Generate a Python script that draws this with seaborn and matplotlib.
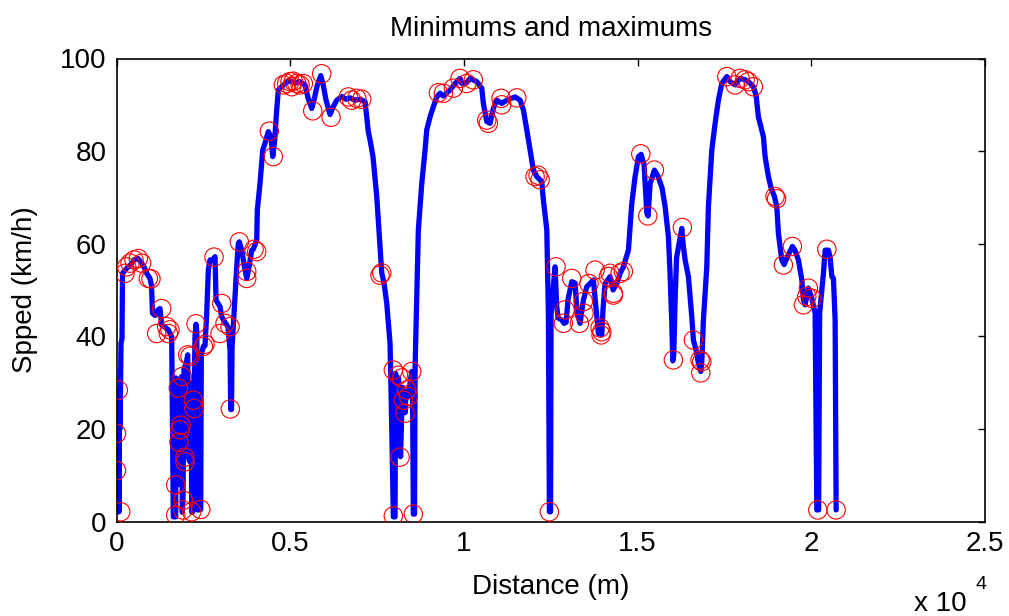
import matplotlib
matplotlib.use('Agg')
import numpy as np
import pandas as pd
import matplotlib.pyplot as plt
import seaborn as sns

# speed profile (distance in m, speed in km/h)
dist_m = [14, 29, 43, 58, 72, 86, 101, 115, 130, 158, 173, 216, 274, 331, 417, 504, 619, 705, 792, 878,
          964, 1008, 1036, 1108, 1195, 1252, 1301, 1396, 1491, 1589, 1635, 1704, 1713, 1756, 1779, 1794, 1814, 1828, 1843, 1871,
          1894, 1915, 1929, 1943, 2001, 2050, 2073, 2102, 2125, 2145, 2165, 2188, 2202, 2231, 2260, 2289, 2312, 2326, 2375, 2424,
          2441, 2499, 2548, 2597, 2643, 2692, 2778, 2836, 2865, 2980, 3029, 3124, 3210, 3268, 3288, 3311, 3325, 3411, 3461, 3507,
          3535, 3604, 3700, 3749, 3800, 3892, 3938, 4036, 4054, 4131, 4209, 4275, 4370, 4448, 4497, 4549, 4612, 4658, 4765, 4880,
          4995, 5139, 5283, 5427, 5513, 5620, 5686, 5772, 5879, 5945, 6032, 6147, 6233, 6340, 6492, 6607, 6722, 6866, 7010, 7154,
          7249, 7298, 7385, 7491, 7586, 7635, 7701, 7779, 7874, 7923, 7969, 8018, 8032, 8076, 8119, 8148, 8176, 8205, 8234, 8277,
          8306, 8335, 8392, 8450, 8499, 8522, 8545, 8579, 8594, 8643, 8689, 8787, 8882, 8931, 9026, 9121, 9219, 9314, 9409, 9602,
          9794, 9889, 9938, 10082, 10177, 10370, 10514, 10560, 10658, 10753, 10848, 10946, 11090, 11234, 11473, 11617, 11712, 11810, 11905, 12000,
          12098, 12242, 12288, 12386, 12432, 12461, 12495, 12509, 12567, 12624, 12673, 12711, 12817, 12884, 12941, 12999, 13105, 13200, 13258, 13344,
          13439, 13537, 13632, 13727, 13805, 13871, 13969, 14006, 14064, 14208, 14294, 14401, 14496, 14591, 14735, 14833, 14928, 15023, 15101, 15187,
          15265, 15302, 15360, 15484, 15590, 15705, 15792, 15887, 15935, 15984, 16013, 16041, 16079, 16122, 16194, 16272, 16309, 16367, 16462, 16560,
          16606, 16684, 16750, 16819, 16848, 16894, 16992, 17038, 17136, 17231, 17326, 17424, 17568, 17663, 17807, 17951, 18095, 18190, 18333, 18411,
          18477, 18621, 18670, 18765, 18843, 18938, 19007, 19053, 19151, 19217, 19332, 19456, 19534, 19629, 19727, 19773, 19822, 19917, 20015, 20110,
          20159, 20211, 20240, 20349, 20398, 20493, 20542, 20591, 20637, 20686, 20715]
speed_kmh = [2, 19, 11, 28.4, 2.1, 28, 20, 30, 38.5, 39.5, 53.6, 54, 54.5, 55, 55.5, 56.5, 56.8, 56, 55, 53.5,
             52.5, 51, 45, 44.5, 45.7, 46, 42.4, 42, 41.4, 39.9, 1, 1, 31, 30, 28.8, 8, 17, 20, 30, 31.3,
             2, 5, 20, 33, 34, 36, 14, 13, 30, 28, 2, 2, 26, 24.4, 40, 42.6, 41, 2.5, 2.5, 2.6,
             36, 37.8, 38, 45, 54.3, 56.5, 56.5, 57.2, 47.8, 46.4, 44.2, 43, 42, 37, 24.2, 24.2, 37.4, 48.6, 55, 60.1,
             60.4, 58.6, 54.3, 52.5, 54.3, 58.6, 58.8, 60.8, 67.3, 73, 80.2, 81.7, 84.2, 83, 78.8, 82, 88.9, 93.2, 94, 94.8,
             95.2, 94.7, 95, 94.3, 91.5, 89.2, 91, 94, 96.3, 94.5, 91, 87.9, 89.5, 91, 91.8, 91.2, 91.5, 91, 91.2, 90.7,
             84.2, 82.4, 78.7, 70.2, 59.4, 53.7, 51.5, 47.1, 38.5, 20.5, 1, 1, 32, 30, 31, 22, 14, 22, 29, 26,
             23.5, 28, 27, 30, 32.4, 28, 1.6, 1.6, 33, 48.6, 63, 73, 80.2, 84.6, 87.4, 89.6, 91.7, 92.5, 91.9, 93.2,
             95, 95.7, 94.6, 94.8, 95.7, 95, 93.6, 90.3, 86.4, 86, 89.2, 91, 90.3, 91, 91.7, 91, 88.9, 84.6, 80.2, 75.9,
             74.5, 73.4, 69.4, 63, 45, 2.1, 2.1, 45, 50, 55, 46.4, 44, 43.5, 42.8, 43, 48, 51.8, 51.5, 45, 42.8,
             47.8, 50.7, 51.4, 52.2, 46, 40.6, 40.3, 46, 51.4, 52.9, 50, 51.4, 53.6, 55, 58.6, 68.7, 74.5, 78.8, 79.3, 77,
             66.6, 66, 73, 75.9, 74.5, 72, 68, 61.5, 53.6, 42.8, 34.7, 36, 47.8, 57, 60, 63.3, 60, 56.5, 52.9, 44.2,
             39.2, 37, 34.2, 32.4, 34.5, 43.5, 55, 68, 80.2, 86, 91, 94.6, 96.1, 95, 94.3, 95.7, 95.4, 95, 93.9, 92,
             87.4, 83.1, 78.8, 74.5, 72, 70.2, 68, 62.2, 56.5, 55.5, 57.5, 59.4, 58.5, 56.5, 52.2, 47.8, 46.8, 50.4, 48.2, 45,
             2.5, 2.5, 45, 53.6, 58.6, 58.6, 57, 52.9, 52.5, 43.5, 2.5]

# local minimums / maximums (red circles)
ext_dist_m = [0, 0, 52, 121, 245, 294, 389, 504, 628, 726, 916, 993, 1301, 1157, 1445, 1491, 1540,
              1894, 1779, 2050, 2116, 2289, 2499, 2548, 2211, 2231, 1857, 1828, 1799, 1971, 1971, 1704, 1923, 1704, 2165, 2424, 1906,
              2807, 3029, 2980, 3124, 3268, 3276, 3535, 3749, 3749, 3959, 4036, 4399, 4514,
              4802, 4900, 4995, 5090, 5188, 5283, 5378, 5044, 5649, 5908, 6176, 6674, 6771, 6915, 7059,
              7635, 7586, 7969, 8113, 8211, 8355, 8401, 8499, 8257, 8306, 8162, 7969, 8545,
              9265, 9409, 9697, 9889, 10082, 10272, 10704, 10658, 11070, 11090, 11522, 12049, 12135, 12193, 12461,
              12653, 12912, 12863, 13105, 13324, 13439, 13459, 13603, 13776, 13969, 13920, 13949, 14159, 14303, 14496, 14208, 14591, 14303,
              15092, 15484, 15294, 16289, 16030, 16606, 16848, 16819, 16799,
              17568, 17807, 17951, 18095, 18190, 18333, 18958, 19001, 19197, 19456, 19773, 19917, 20015, 19870, 20188, 20447, 20715]
ext_speed_kmh = [19.0, 11.0, 28.4, 2.1, 53.6, 55.0, 55.8, 56.5, 56.8, 55.8, 52.5, 52.4, 46.0, 40.6, 42.1, 40.6, 41.4,
                 31.3, 28.8, 36.0, 35.7, 42.7, 37.8, 38.3, 26.2, 24.4, 20.8, 19.8, 17.1, 13.9, 12.9, 7.9, 4.6, 1.4, 2.1, 2.6, 2.5,
                 57.1, 47.1, 40.6, 42.8, 42.1, 24.3, 60.4, 52.5, 54.0, 58.8, 58.3, 84.3, 78.8,
                 94.3, 94.6, 95.0, 95.1, 94.6, 94.3, 94.6, 93.9, 88.7, 96.7, 87.3, 91.7, 91.0, 91.4, 91.2,
                 53.7, 53.2, 32.7, 31.6, 31.0, 28.4, 27.0, 32.4, 26.2, 23.4, 13.9, 1.2, 1.6,
                 92.6, 92.5, 93.6, 95.7, 94.6, 95.4, 86.0, 86.7, 91.4, 90.0, 91.5, 74.5, 74.8, 73.8, 2.1,
                 55.0, 45.7, 42.8, 52.5, 42.8, 47.5, 45.0, 51.4, 54.3, 41.0, 41.8, 40.3, 52.9, 49.3, 53.6, 53.6, 54.0, 48.9,
                 79.4, 75.9, 66.0, 63.5, 34.9, 39.2, 34.5, 32.1, 34.9,
                 96.1, 94.3, 95.7, 95.4, 95.0, 93.9, 70.2, 69.7, 55.4, 59.4, 46.8, 50.4, 48.2, 48.6, 2.5, 58.8, 2.5]

x_ticks = [0, 5000, 10000, 15000, 20000, 25000]
x_labels = ['0', '0.5', '1', '1.5', '2', '2.5']
y_ticks = [0, 20, 40, 60, 80, 100]

df = pd.DataFrame({'dist': dist_m, 'speed': speed_kmh})
ext = pd.DataFrame({'dist': ext_dist_m, 'speed': ext_speed_kmh})

sns.set_style('white')
plt.rcParams['font.family'] = ['Liberation Sans', 'DejaVu Sans']
plt.rcParams['text.color'] = 'black'
plt.rcParams['axes.labelcolor'] = 'black'

fig = plt.figure(figsize=(10.09, 6.16), dpi=100)
ax = fig.add_axes([116.5 / 1009, 1 - 521.5 / 616, (985 - 116.5) / 1009, (521.5 - 58.5) / 616])

sns.lineplot(data=df, x='dist', y='speed', sort=False, estimator=None, color='#0000ff', linewidth=3.8, ax=ax)
sns.scatterplot(data=ext, x='dist', y='speed', marker='o', s=175, facecolors='none',
                edgecolor='red', linewidth=0.8, ax=ax, zorder=3)

ax.set_xlim(0, 25000)
ax.set_ylim(0, 100)
ax.set_xticks(x_ticks)
ax.set_xticklabels(x_labels)
ax.set_yticks(y_ticks)
ax.tick_params(direction='in', length=5, width=1.0, top=True, right=True, labelsize=20, pad=7, colors='black')
for sp in ax.spines.values():
    sp.set_color('black')
    sp.set_linewidth(1.2)

ax.set_title('Minimums and maximums', fontsize=20, pad=16, color='black')
ax.set_xlabel('Distance (m)', fontsize=20, labelpad=12)
ax.set_ylabel('Spped (km/h)', fontsize=20, labelpad=16)
# MATLAB style exponent under the x axis
fig.text(914 / 1009, 1 - 611 / 616, 'x 10', fontsize=20, ha='left', va='baseline')
fig.text(976 / 1009, 1 - 589 / 616, '4', fontsize=14, ha='left', va='baseline')

fig.savefig('out.png', dpi=100)
